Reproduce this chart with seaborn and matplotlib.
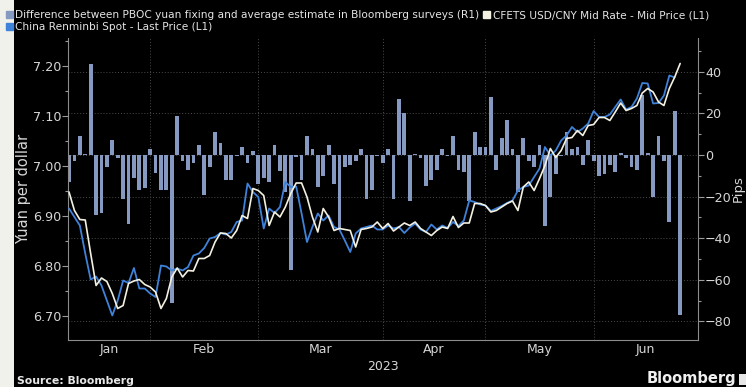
import numpy as np
import pandas as pd
import matplotlib
matplotlib.use("Agg")
import matplotlib.pyplot as plt
from matplotlib.patches import Patch, Rectangle
from matplotlib.ticker import MultipleLocator, FixedLocator, FormatStrFormatter
import seaborn as sns

# daily fixing data, trading days Jan 3 - Jun 26 2023
fix_gap_bps = [
    -13, -3, 9, 0.5, 44, -29, -28, -6, 7, -1.5, -21, -33, -11, -17, -16,
    3, -8.5, -17, -17, -71, 19, -3, -7, -4, 5, -19, -6, 11, 6, -12, -12, -0.5, 4, -4, 2,
    -14, -11, -13, 5, -7.5, -17.6, -55.5, -1, -12, 9, 3, -15.5, -10, 5, -14, -35, -6, -5,
    -3, 3, -21, -17, -0.5,
    -4, 3, -21, 27, 20, -22, 0.5, -1.5, -15, -12, -7, 3, -0.5, 9, -7, -8, -22, 11, 4,
    4, 28, -7, 8, 17, 3, -18, 8, -3, -6, 5, -34, -20, -9, -0.5, 11, 3, 4, -5, 7,
    -3, -10, -9, -5, -8, 1, -1.5, -6, -7, 29, 1, -20, 9, -3, -32, 21, -77,
]
cfets_mid = [
    6.948, 6.911, 6.893, 6.892, 6.825, 6.761, 6.776, 6.769, 6.745, 6.715, 6.721, 6.765,
    6.770, 6.773, 6.763,
    6.758, 6.748, 6.715, 6.735, 6.778, 6.796, 6.778, 6.791, 6.790, 6.815, 6.815, 6.821,
    6.848, 6.866, 6.865, 6.856, 6.871, 6.901, 6.895, 6.955,
    6.951, 6.941, 6.881, 6.908, 6.898, 6.918, 6.945, 6.966, 6.966, 6.938, 6.898, 6.868,
    6.915, 6.898, 6.871, 6.875, 6.873, 6.871, 6.838, 6.873, 6.875, 6.878, 6.888,
    6.875, 6.885, 6.870, 6.878, 6.886, 6.881, 6.888, 6.875, 6.868, 6.861, 6.871, 6.878,
    6.875, 6.899, 6.877, 6.886, 6.886, 6.925, 6.925,
    6.921, 6.908, 6.911, 6.918, 6.925, 6.930, 6.911, 6.958, 6.968, 6.951, 6.975, 7.001,
    7.035, 7.017, 7.031, 7.055, 7.057, 7.071, 7.061, 7.081,
    7.083, 7.097, 7.097, 7.091, 7.108, 7.126, 7.111, 7.115, 7.121, 7.146, 7.155, 7.148,
    7.128, 7.121, 7.155, 7.178, 7.205,
]
spot_last = [
    6.915, 6.898, 6.881, 6.825, 6.773, 6.779, 6.761, 6.731, 6.701, 6.731, 6.771, 6.766,
    6.796, 6.755, 6.755,
    6.745, 6.738, 6.801, 6.799, 6.791, 6.795, 6.791, 6.798, 6.821, 6.825, 6.836, 6.855,
    6.858, 6.866, 6.863, 6.868, 6.888, 6.891, 6.965, 6.948,
    6.938, 6.875, 6.915, 6.906, 6.918, 6.968, 6.958, 6.959, 6.905, 6.848, 6.878, 6.905,
    6.891, 6.901, 6.878, 6.873, 6.851, 6.828, 6.865, 6.875, 6.878, 6.881, 6.873,
    6.873, 6.881, 6.875, 6.878, 6.866, 6.877, 6.885, 6.873, 6.868, 6.883, 6.873, 6.881,
    6.876, 6.888, 6.880, 6.891, 6.931, 6.928, 6.923,
    6.921, 6.910, 6.915, 6.920, 6.926, 6.931, 6.951, 6.958, 6.961, 6.978, 6.995, 7.038,
    7.021, 7.031, 7.051, 7.061, 7.078, 7.068, 7.075, 7.085,
    7.110, 7.098, 7.098, 7.103, 7.118, 7.133, 7.113, 7.118, 7.135, 7.166, 7.165, 7.125,
    7.126, 7.141, 7.181, 7.177, np.nan,
]
month_labels = ["Jan", "Feb", "Mar", "Apr", "May", "Jun"]
month_start = [0, 15, 35, 58, 77, 97]   # first trading day of each month (row index)

BAR_C = "#8699c0"
BLUE_C = "#3f82d9"
WHITE_C = "#f3f1e2"
TXT_C = "#d6d6d6"
GRID_C = "#4a4a4a"

df = pd.DataFrame({
    "day": np.arange(len(fix_gap_bps)),
    "gap": fix_gap_bps,
    "cfets": cfets_mid,
    "spot": spot_last,
})

sns.set_style("dark")
plt.rcParams["font.family"] = ["DejaVu Sans"]

fig = plt.figure(figsize=(7.46, 3.87), dpi=100, facecolor="black")
fig.patches.append(Rectangle((0, 0), 14 / 746, 1, transform=fig.transFigure,
                             facecolor="#f1f1eb", edgecolor="none", zorder=-5))

ax = fig.add_axes([68 / 746, 47 / 387, 630 / 746, 302 / 387])
ax.set_facecolor("black")

# bars on the right (pips) axis
sns.barplot(data=df, x="day", y="gap", native_scale=True, color=BAR_C, saturation=1,
            width=0.7, errorbar=None, ax=ax, zorder=2, edgecolor="none", linewidth=0)

axl = ax.twinx()
sns.lineplot(data=df, x="day", y="spot", color=BLUE_C, lw=1.3, estimator=None,
             errorbar=None, ax=axl)
sns.lineplot(data=df, x="day", y="cfets", color=WHITE_C, lw=1.2, estimator=None,
             errorbar=None, ax=axl)

# axis sides: pips right, yuan left
ax.yaxis.tick_right()
ax.yaxis.set_label_position("right")
axl.yaxis.tick_left()
axl.yaxis.set_label_position("left")

n = len(fix_gap_bps)
xmax = n + 2.3
ax.set_xlim(-0.19, xmax)
ax.set_ylim(-89, 56.3)
axl.set_ylim(6.652, 7.256)

seps = month_start[1:]
edges = month_start + [xmax]
mids = [(edges[i] + edges[i + 1]) / 2 for i in range(len(month_labels))]
ax.xaxis.set_major_locator(FixedLocator(seps))
ax.set_xticklabels([""] * len(seps))
ax.set_xticks(mids, minor=True)
ax.set_xticklabels(month_labels, minor=True)
ax.tick_params(axis="x", which="major", length=4, color="#9a9a9a", direction="out")
ax.tick_params(axis="x", which="minor", length=0, pad=2, labelsize=9, labelcolor=TXT_C)

ax.yaxis.set_major_locator(MultipleLocator(20))
ax.yaxis.set_minor_locator(MultipleLocator(10))
axl.yaxis.set_major_locator(MultipleLocator(0.1))
axl.yaxis.set_minor_locator(MultipleLocator(0.05))
axl.yaxis.set_major_formatter(FormatStrFormatter("%.2f"))
for a in (ax, axl):
    a.tick_params(axis="y", which="major", length=4, width=0.8, color="#9a9a9a",
                  labelsize=9.2, labelcolor=TXT_C, pad=1, direction="out")
    a.tick_params(axis="y", which="minor", length=2, width=0.8, color="#9a9a9a",
                  direction="out")

axl.set_ylabel("Yuan per dollar", color=TXT_C, fontsize=10.5)
axl.yaxis.set_label_coords(-0.058, 0.5)
ax.set_ylabel("Pips", color=TXT_C, fontsize=9.5, rotation=90)
ax.yaxis.set_label_coords(1.053, 0.5)
axl.set_xlabel("")
ax.set_xlabel("2023", color=TXT_C, fontsize=9, labelpad=3)

# dotted grid: horizontal at pips ticks, vertical at month starts
ax.grid(True, which="major", color=GRID_C, linestyle=(0, (1, 2)), linewidth=0.7)
ax.set_axisbelow(True)

for s in ("left", "right", "bottom"):
    ax.spines[s].set_visible(True)
    ax.spines[s].set_color("#8c8c8c")
    ax.spines[s].set_linewidth(0.8)
ax.spines["top"].set_visible(False)
for s in axl.spines.values():
    s.set_visible(False)

handles = [Patch(color=BAR_C), Patch(color=BLUE_C), Patch(color=WHITE_C)]
labels = ["Difference between PBOC yuan fixing and average estimate in Bloomberg surveys (R1)",
          "China Renminbi Spot - Last Price (L1)",
          "CFETS USD/CNY Mid Rate - Mid Price (L1)"]
fig.legend(handles, labels, ncol=2, loc="upper left", bbox_to_anchor=(6 / 746, 1 - 10 / 387),
           frameon=False, fontsize=7.6, labelcolor="#e4e4e4", handlelength=0.65,
           handleheight=0.65, handletextpad=0.25, columnspacing=0.35, labelspacing=0.2,
           borderpad=0, borderaxespad=0)

fig.text(17 / 746, 1 - 381 / 387, "Source: Bloomberg", color="#e8e8e8", fontsize=7.8,
         fontweight="bold", va="center", ha="left")
fig.text(736 / 746, 1 - 379 / 387, "Bloomberg", color="#f0f0f0", fontsize=10.5,
         fontweight="bold", va="center", ha="right")
fig.patches.append(Rectangle((739 / 746, 1 - 385 / 387), 8 / 746, 11 / 387,
                             transform=fig.transFigure, facecolor="#e8e8e8",
                             edgecolor="none"))

fig.savefig("out.png", dpi=100, facecolor="black")
